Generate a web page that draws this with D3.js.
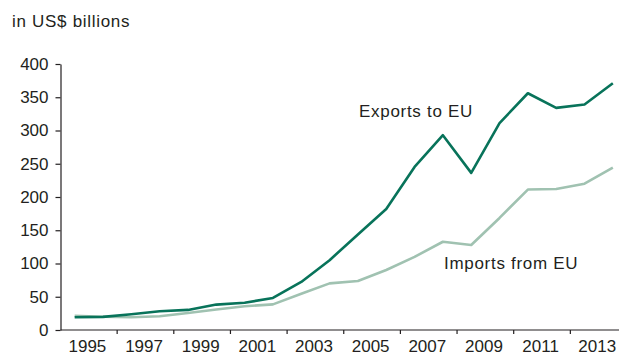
<!DOCTYPE html>
<html>
<head>
    <meta charset="utf-8">
    <title>Exports to and imports from the EU</title>
    <script src="https://d3js.org/d3.v7.min.js"></script>
    <style>
        body { margin: 0; background: #fff; }
        svg { display: block; font-family: "Liberation Sans", Arial, sans-serif; }
        .axis text { font-size: 17px; fill: #231f20; }
        .axis path, .axis line { stroke: #231f20; stroke-width: 1.2; }
    </style>
</head>
<body>
<script>

var years = d3.range(1995, 2015);
var exportsToEU = [19.2, 19.8, 23.8, 28.2, 30.2, 38.2, 40.9, 48.2, 72.2, 105.0,
                   143.7, 182.0, 245.2, 292.9, 236.3, 311.2, 356.0, 334.0, 339.0, 371.0];
var importsFromEU = [21.3, 19.9, 19.2, 20.7, 25.5, 30.8, 35.7, 38.5, 54.6, 70.1,
                     73.6, 90.3, 110.0, 132.7, 127.8, 168.5, 211.2, 212.1, 220.0, 244.0];
var yTicks = [0, 50, 100, 150, 200, 250, 300, 350, 400];
var xLabels = [1995, 1997, 1999, 2001, 2003, 2005, 2007, 2009, 2011, 2013];

var width = 619, height = 353;

var svg = d3.select("body").append("svg")
    .attr("width", width)
    .attr("height", height);

var x = d3.scaleLinear()
    .domain([1994.5, 2014.5])
    .range([60.5, 627]);

var y = d3.scaleLinear()
    .domain([0, 400])
    .range([330, 64]);

// unit label
svg.append("text")
    .attr("x", 12)
    .attr("y", 27)
    .attr("font-size", 17)
    .attr("letter-spacing", 0.7)
    .attr("fill", "#231f20")
    .text("in US$ billions");

// y axis
svg.append("g")
    .attr("class", "axis")
    .attr("transform", "translate(60.5,0)")
    .call(d3.axisLeft(y).tickValues(yTicks).tickSize(5).tickPadding(7).tickSizeOuter(0));

// x axis: ticks between two-year groups, labels centred between them
var xAxis = svg.append("g")
    .attr("class", "axis")
    .attr("transform", "translate(0,330)");

xAxis.append("line")
    .attr("x1", 60.5)
    .attr("x2", width)
    .attr("y1", 0)
    .attr("y2", 0);

xAxis.selectAll(".tick")
    .data(d3.range(1996.5, 2014, 2))
  .enter().append("line")
    .attr("x1", function(d) { return x(d); })
    .attr("x2", function(d) { return x(d); })
    .attr("y1", 0)
    .attr("y2", 4);

xAxis.selectAll("text")
    .data(xLabels)
  .enter().append("text")
    .attr("x", function(d) { return x(d + 0.45); })
    .attr("y", 21.5)
    .attr("text-anchor", "middle")
    .text(function(d) { return d; });

var line = d3.line()
    .x(function(d, i) { return x(years[i]); })
    .y(function(d) { return y(d); });

svg.append("path")
    .datum(importsFromEU)
    .attr("fill", "none")
    .attr("stroke", "#a0c2b1")
    .attr("stroke-width", 2.6)
    .attr("stroke-linejoin", "round")
    .attr("d", line);

svg.append("path")
    .datum(exportsToEU)
    .attr("fill", "none")
    .attr("stroke", "#08735a")
    .attr("stroke-width", 2.6)
    .attr("stroke-linejoin", "round")
    .attr("d", line);

// series labels
svg.append("text")
    .attr("x", 359)
    .attr("y", 117)
    .attr("font-size", 17)
    .attr("letter-spacing", 0.7)
    .attr("fill", "#231f20")
    .text("Exports to EU");

svg.append("text")
    .attr("x", 444)
    .attr("y", 268.5)
    .attr("font-size", 17)
    .attr("letter-spacing", 0.7)
    .attr("fill", "#231f20")
    .text("Imports from EU");

</script>
</body>
</html>
